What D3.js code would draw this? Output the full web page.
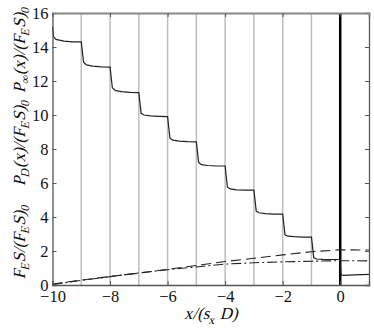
<!DOCTYPE html>
<html>
<head>
<meta charset="utf-8">
<script src="https://cdn.jsdelivr.net/npm/d3@7"></script>
<style>
  body { margin: 0; background: #fff; }
  svg text { font-family: "Liberation Serif", "Times New Roman", serif; }
</style>
</head>
<body>
<div id="chart"></div>
<script>
// solid curve (stepwise decay)
const solidX = [-10, -9.96, -9.88, -9.6, -9.3, -9.0, -8.92, -8.82, -8.6, -8.3, -8.0, -7.92, -7.82, -7.6, -7.3, -7.0,
    -6.92, -6.82, -6.6, -6.3, -6.0, -5.92, -5.82, -5.6, -5.3, -5.0, -4.92, -4.82, -4.6, -4.3, -4.0,
    -3.92, -3.82, -3.6, -3.3, -3.0, -2.92, -2.82, -2.6, -2.3, -2.0, -1.92, -1.82, -1.6, -1.3, -1.0,
    -0.92, -0.82, -0.6, -0.3, -0.01, 0.03, 0.1, 0.5, 1.0]
const solidY = [15.2, 14.6, 14.45, 14.35, 14.3, 14.3, 13.1, 12.95, 12.87, 12.83, 12.82, 11.6, 11.45, 11.37, 11.33, 11.32,
    10.1, 10.0, 9.95, 9.92, 9.9, 8.65, 8.52, 8.46, 8.43, 8.42, 7.2, 7.08, 7.03, 7.0, 7.0,
    5.75, 5.65, 5.6, 5.58, 5.58, 4.35, 4.25, 4.2, 4.17, 4.17, 2.95, 2.87, 2.84, 2.82, 2.82,
    1.6, 1.53, 1.51, 1.5, 1.5, 0.6, 0.57, 0.6, 0.63]
// dashed curve
const dashX = [-10, -9, -8, -7, -6, -5, -4, -3, -2, -1, 0, 1]
const dashY = [0.05, 0.29, 0.5, 0.7, 0.92, 1.15, 1.38, 1.57, 1.77, 1.96, 2.07, 2.06]
// dash-dot curve
const dotX = [-10, -9, -8, -7, -6, -5, -4, -3, -2, -1, 0, 1]
const dotY = [0.03, 0.27, 0.49, 0.71, 0.9, 1.06, 1.23, 1.31, 1.36, 1.4, 1.43, 1.42]
const gridX = [-9, -8, -7, -6, -5, -4, -3, -2, -1]
const xTicks = [-10, -8, -6, -4, -2, 0]
const yTicks = [0, 2, 4, 6, 8, 10, 12, 14, 16]

const W = 374, H = 331
const margin = {left: 52.5, top: 13, right: 5, bottom: 46}
const pw = W - margin.left - margin.right, ph = H - margin.top - margin.bottom
const FONT = "'Liberation Serif', 'Times New Roman', serif"
const SKEW = " skewX(-14)"  // no serif italic face installed, so slant the upright one

let svg = d3.select("#chart").append("svg").attr("width", W).attr("height", H)
let g = svg.append("g").attr("transform", "translate(" + margin.left + "," + margin.top + ")")

let x = d3.scaleLinear().domain([-10, 1]).range([0, pw])
let y = d3.scaleLinear().domain([0, 16]).range([ph, 0])

// grid lines
g.selectAll(".grid").data(gridX).enter().append("line")
    .attr("x1", d => x(d)).attr("x2", d => x(d))
    .attr("y1", 0).attr("y2", ph)
    .style("stroke", "#bdbdbd").style("stroke-width", 1.5)

// x = 0 wall
g.append("line").attr("x1", x(0)).attr("x2", x(0)).attr("y1", 0).attr("y2", ph)
    .style("stroke", "#000").style("stroke-width", 2.5)

const line = d3.line().x(d => x(d[0])).y(d => y(d[1]))

g.append("path").datum(solidX.map((v, i) => [v, solidY[i]]))
    .attr("d", line).attr("fill", "none")
    .style("stroke", "#222").style("stroke-width", 1.2)
g.append("path").datum(dashX.map((v, i) => [v, dashY[i]]))
    .attr("d", line).attr("fill", "none")
    .style("stroke", "#222").style("stroke-width", 1.1).style("stroke-dasharray", "10,5")
g.append("path").datum(dotX.map((v, i) => [v, dotY[i]]))
    .attr("d", line).attr("fill", "none")
    .style("stroke", "#222").style("stroke-width", 1.1).style("stroke-dasharray", "10,3,2,3")

// axes (ticks inward)
let axL = g.append("g").call(d3.axisLeft(y).tickValues(yTicks).tickSize(-4).tickPadding(4))
let axR = g.append("g").attr("transform", "translate(" + pw + ",0)")
    .call(d3.axisRight(y).tickValues(yTicks).tickSize(-4).tickFormat(""))
let axB = g.append("g").attr("transform", "translate(0," + ph + ")")
    .call(d3.axisBottom(x).tickValues(xTicks).tickSize(-4).tickPadding(5).tickFormat(d => d < 0 ? "\u2212" + (-d) : d))
let axT = g.append("g").call(d3.axisTop(x).tickValues(xTicks).tickSize(-4).tickFormat(""))
for (let ax of [axL, axR, axB, axT]) {
    ax.attr("font-family", FONT)
    ax.select(".domain").style("stroke", "#555").style("stroke-width", 1.3)
    ax.selectAll(".tick line").style("stroke", "#555")
    ax.selectAll("text").attr("font-family", FONT).style("font-size", "16.5px").style("fill", "#111")
}
axT.select(".domain").style("stroke", "#888").style("stroke-width", 2)
axB.selectAll(".tick text").attr("dy", "0.75em")

// x label
let xl = svg.append("text").attr("transform", "translate(" + (margin.left + pw / 2) + ",319)" + SKEW)
    .attr("text-anchor", "middle").attr("font-family", FONT)
    .style("font-size", "17px").style("fill", "#111")
xl.append("tspan").text("x/(s")
xl.append("tspan").text("x").attr("dy", 5).style("font-size", "12px")
xl.append("tspan").text(" D)").attr("dy", -5)

// y label, three parts
function sub(t, s) {
    t.append("tspan").text(s).attr("dy", 4).style("font-size", "12px")
}
function up(t, s) {
    t.append("tspan").text(s).attr("dy", -4)
}
const yParts = [
    {c: 242, pre: ["F", null]},
    {c: 143, pre: ["P", "D"]},
    {c: 50, pre: ["P", "\u221E"]}
]
for (let p of yParts) {
    let t = svg.append("text").attr("transform", "translate(25," + p.c + ") rotate(-90)" + SKEW)
        .attr("text-anchor", "middle").attr("font-family", FONT)
        .style("font-size", "17px").style("fill", "#111")
    if (p.pre[1] === null) {
        t.append("tspan").text("F"); sub(t, "E"); up(t, "S/(F")
    } else {
        t.append("tspan").text(p.pre[0]); sub(t, p.pre[1]); up(t, "(x)/(F")
    }
    sub(t, "E"); up(t, "S)"); sub(t, "0")
}
</script>
</body>
</html>
